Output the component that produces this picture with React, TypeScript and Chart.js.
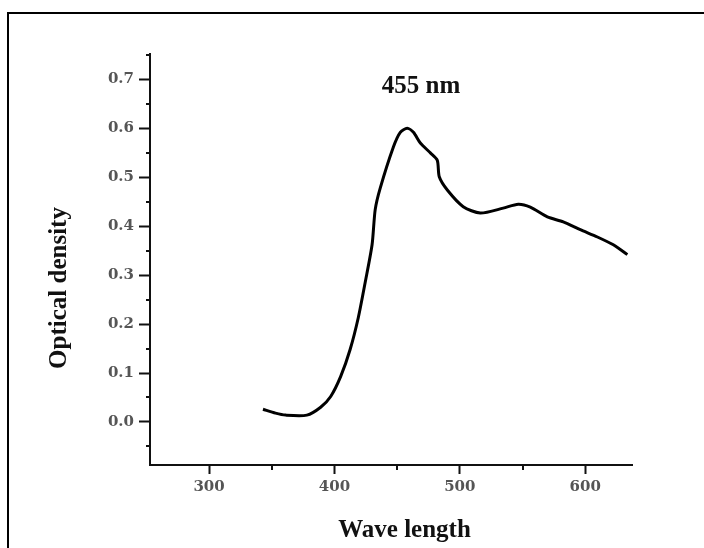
import React, { useEffect, useRef } from "react";
import { Chart, registerables } from "chart.js";

Chart.register(...registerables);

// ---- data ----
const wavelengths = [343, 353, 361, 378, 389, 397, 405, 412.5, 419, 424.5, 430, 432.5, 436.5, 447, 452.5, 458, 463, 468.5, 476.5, 482, 483.6, 490, 502.7, 516.3, 534.6, 546.6, 556.2, 569.8, 582.5, 596.1, 609.7, 622.4, 633.6];
const density = [0.026, 0.018, 0.014, 0.014, 0.030, 0.052, 0.093, 0.148, 0.213, 0.285, 0.362, 0.434, 0.478, 0.562, 0.592, 0.600, 0.592, 0.570, 0.550, 0.535, 0.501, 0.474, 0.440, 0.427, 0.437, 0.445, 0.439, 0.419, 0.409, 0.393, 0.378, 0.362, 0.342];

const xMajorTicks = [300, 400, 500, 600];
const xMinorTicks = [350, 450, 550];
const yMajorTicks = [0.0, 0.1, 0.2, 0.3, 0.4, 0.5, 0.6, 0.7];
const yMinorTicks = [-0.05, 0.05, 0.15, 0.25, 0.35, 0.45, 0.55, 0.65, 0.75];

const xRange = [252.9, 637.3];
const yRange = [-0.088, 0.752];

const xTitle = "Wave length";
const yTitle = "Optical density";
const peakLabel = "455 nm";
const peakLabelAt = [469, 0.672];

const TITLE_FONT = "bold 25px 'Liberation Serif', 'Times New Roman', serif";

const decorPlugin = {
  id: "decor",
  beforeDraw(chart: any) {
    const ctx = chart.ctx;
    ctx.save();
    ctx.fillStyle = "#ffffff";
    ctx.fillRect(0, 0, chart.width, chart.height);
    ctx.fillStyle = "#000000";
    ctx.fillRect(7, 12, chart.width - 7, 2);
    ctx.fillRect(7, 12, 2, chart.height - 12);
    ctx.restore();
  },
  afterDraw(chart: any) {
    const ctx = chart.ctx;
    const xs = chart.scales.x;
    const ys = chart.scales.y;
    const area = chart.chartArea;
    ctx.save();
    ctx.strokeStyle = "#111111";
    ctx.lineWidth = 2;
    // minor ticks
    xMinorTicks.forEach((v) => {
      const px = Math.round(xs.getPixelForValue(v));
      ctx.beginPath();
      ctx.moveTo(px, area.bottom);
      ctx.lineTo(px, area.bottom + 5);
      ctx.stroke();
    });
    yMinorTicks.forEach((v) => {
      const py = Math.round(ys.getPixelForValue(v));
      ctx.beginPath();
      ctx.moveTo(area.left, py);
      ctx.lineTo(area.left - 4, py);
      ctx.stroke();
    });
    // titles
    ctx.fillStyle = "#111111";
    ctx.font = TITLE_FONT;
    ctx.textAlign = "center";
    ctx.textBaseline = "alphabetic";
    ctx.fillText(xTitle, 404.5, 537);
    ctx.save();
    ctx.translate(65.5, 288);
    ctx.rotate(-Math.PI / 2);
    ctx.fillText(yTitle, 0, 0);
    ctx.restore();
    // peak annotation
    ctx.fillText(peakLabel, xs.getPixelForValue(peakLabelAt[0]), ys.getPixelForValue(peakLabelAt[1]));
    ctx.restore();
  },
};

export default function App() {
  const ref = useRef<HTMLCanvasElement | null>(null);
  useEffect(() => {
    if (!ref.current) return;
    const tickFont = { family: "'DejaVu Serif', serif", size: 15, weight: "bold" as const };
    const chart = new Chart(ref.current, {
      type: "line",
      data: {
        datasets: [
          {
            data: wavelengths.map((w, i) => ({ x: w, y: density[i] })),
            borderColor: "#000000",
            borderWidth: 3,
            pointRadius: 0,
            tension: 0.25,
            fill: false,
          },
        ],
      },
      options: {
        animation: false,
        responsive: false,
        devicePixelRatio: 1,
        layout: { padding: { left: 0, top: 54, right: 72, bottom: 0 } },
        plugins: { legend: { display: false }, tooltip: { enabled: false } },
        scales: {
          x: {
            type: "linear",
            min: xRange[0],
            max: xRange[1],
            afterBuildTicks: (s: any) => {
              s.ticks = xMajorTicks.map((v) => ({ value: v }));
            },
            afterFit: (s: any) => {
              s.height = 83;
            },
            ticks: {
              callback: (v: any) => String(v),
              color: "#555555",
              font: tickFont,
              padding: 4,
              maxRotation: 0,
              autoSkip: false,
            },
            grid: {
              display: true,
              drawOnChartArea: false,
              drawTicks: true,
              tickLength: 9,
              tickColor: "#111111",
              tickWidth: 2,
            },
            border: { display: true, color: "#111111", width: 2 },
          },
          y: {
            type: "linear",
            min: yRange[0],
            max: yRange[1],
            afterBuildTicks: (s: any) => {
              s.ticks = yMajorTicks.map((v) => ({ value: v }));
            },
            afterFit: (s: any) => {
              s.width = 150;
            },
            ticks: {
              callback: (v: any) => Number(v).toFixed(1),
              color: "#555555",
              font: tickFont,
              padding: 5,
              autoSkip: false,
            },
            grid: {
              display: true,
              drawOnChartArea: false,
              drawTicks: true,
              tickLength: 11,
              tickColor: "#111111",
              tickWidth: 2,
            },
            border: { display: true, color: "#111111", width: 2 },
          },
        },
      },
      plugins: [decorPlugin],
    });
    return () => chart.destroy();
  }, []);
  return (
    <div style={{ position: "absolute", left: 0, top: 0, width: 704, height: 548 }}>
      <canvas ref={ref} width={704} height={548} style={{ display: "block", width: 704, height: 548 }} />
    </div>
  );
}
